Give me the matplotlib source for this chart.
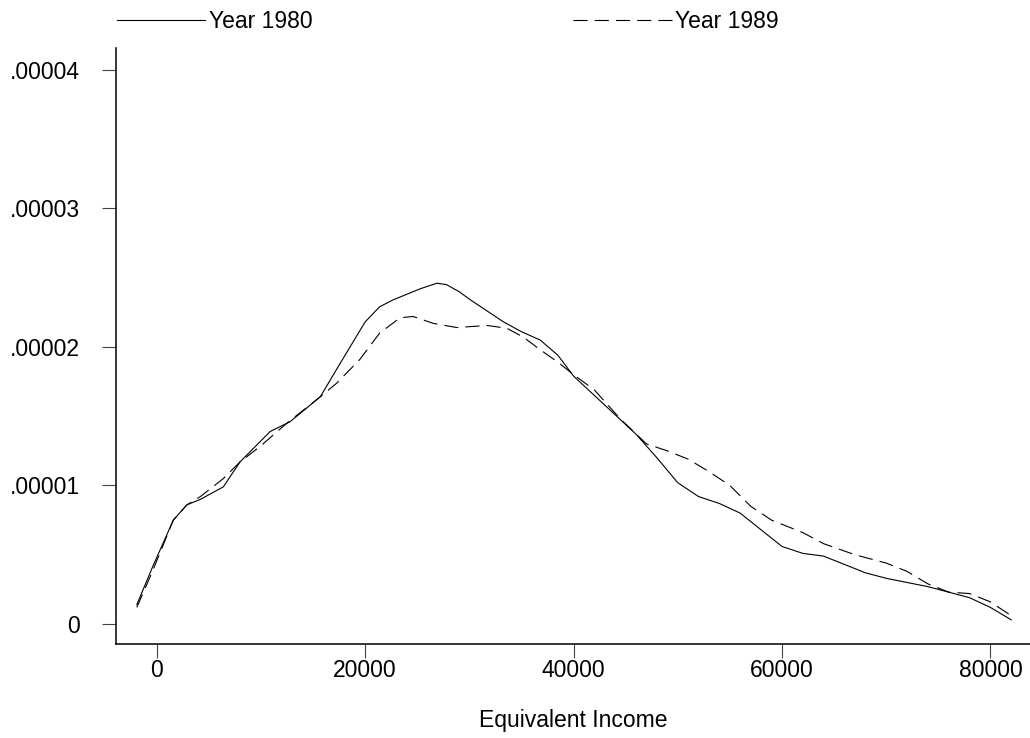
import numpy as np
import matplotlib
matplotlib.use("Agg")
import matplotlib.pyplot as plt
from matplotlib.lines import Line2D

plt.rcParams["font.family"] = ["Liberation Sans", "DejaVu Sans"]

# kernel density estimates (x in income, y in 1e-5)
x80 = [-1900, -400, 1600, 2900, 4200, 6400, 8000, 10900, 12800, 15700, 17600,
       20000, 21400, 22700, 25300, 26900, 27800, 29000, 30100, 31500, 33300,
       35000, 36800, 38500, 40000, 43000, 46000, 48000, 50000, 52000, 54000,
       56000, 58000, 60000, 62000, 64000, 66000, 68000, 70000, 72000, 74000,
       76000, 78000, 80000, 82000]
y80 = [0.14, 0.41, 0.75, 0.86, 0.90, 0.99, 1.17, 1.39, 1.46, 1.64, 1.88,
       2.18, 2.29, 2.34, 2.42, 2.46, 2.45, 2.40, 2.34, 2.27, 2.18,
       2.11, 2.05, 1.94, 1.79, 1.58, 1.37, 1.20, 1.02, 0.92, 0.87,
       0.80, 0.68, 0.56, 0.51, 0.49, 0.43, 0.37, 0.33, 0.30, 0.27,
       0.23, 0.19, 0.12, 0.03]

x89 = [-1900, -400, 1600, 2900, 4200, 6400, 8000, 9900, 12500, 15700, 17300,
       19500, 21400, 23350, 24600, 26550, 28800, 31700, 33600, 35200, 36800,
       38500, 40000, 42000, 44500, 47000, 49000, 51000, 53000, 55000, 57000,
       59000, 62000, 64000, 67000, 70000, 72000, 74000, 76000, 78000, 80000,
       82000]
y89 = [0.12, 0.38, 0.75, 0.86, 0.92, 1.05, 1.17, 1.28, 1.45, 1.64, 1.74,
       1.91, 2.10, 2.21, 2.22, 2.17, 2.14, 2.155, 2.135, 2.07, 1.98,
       1.89, 1.80, 1.69, 1.48, 1.30, 1.25, 1.19, 1.10, 1.00, 0.85,
       0.75, 0.66, 0.58, 0.50, 0.44, 0.38, 0.29, 0.23, 0.22, 0.16,
       0.06]

xticks = [0, 20000, 40000, 60000, 80000]
yticks = [0, 0.00001, 0.00002, 0.00003, 0.00004]
ylabels = ["0", ".00001", ".00002", ".00003", ".00004"]
names = ["Year 1980", "Year 1989"]

fsz = 16.5
dsh = (12.7, 6.4)

fig = plt.figure(figsize=(10.3, 7.38), dpi=100)
ax = fig.add_axes([0.1126, 0.1274, 0.8874, 0.808])

ax.plot(x80, np.array(y80) * 1e-5, "-k", linewidth=0.8)
ax.plot(x89, np.array(y89) * 1e-5, "--k", linewidth=0.8, dashes=dsh)

ax.set_xlim([-3900, 83800])
ax.set_ylim([-1.44e-6, 4.16e-5])
ax.set_xticks(xticks)
ax.set_xticklabels([str(v) for v in xticks])
ax.set_yticks(yticks)
ax.set_yticklabels(ylabels)

for s in ["top", "right"]:
    ax.spines[s].set_visible(False)
for s in ["left", "bottom"]:
    ax.spines[s].set_linewidth(1.1)
ax.tick_params(labelsize=fsz, length=10, width=0.8, color="#444444")
ax.tick_params(axis="x", pad=1)
ax.tick_params(axis="y", pad=16)

ax.set_xlabel("Equivalent Income", fontsize=fsz, labelpad=19)

# two legend keys, each with its own line length
h1 = Line2D([], [], color="k", linewidth=0.8)
h2 = Line2D([], [], color="k", linewidth=0.8, linestyle="--", dashes=dsh)
leg1 = fig.legend([h1], [names[0]], loc="center left",
                  bbox_to_anchor=(117 / 1030, 1 - 22 / 738), frameon=False,
                  fontsize=fsz, handlelength=3.85, handletextpad=0.15,
                  borderpad=0, borderaxespad=0)
leg2 = fig.legend([h2], [names[1]], loc="center left",
                  bbox_to_anchor=(573 / 1030, 1 - 22 / 738), frameon=False,
                  fontsize=fsz, handlelength=4.32, handletextpad=0.15,
                  borderpad=0, borderaxespad=0)

fig.savefig("out.png", dpi=100)
